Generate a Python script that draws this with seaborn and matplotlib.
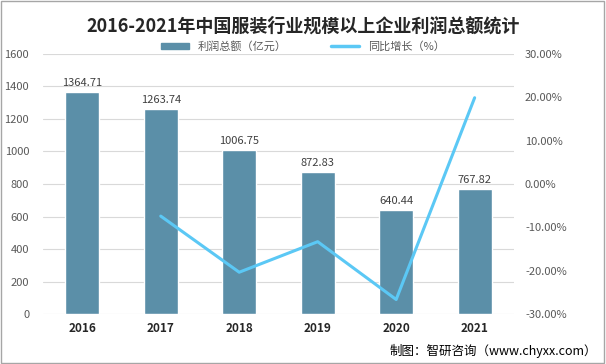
import numpy as np
import pandas as pd
import seaborn as sns
import matplotlib.pyplot as plt
from matplotlib.patches import Patch
from matplotlib.lines import Line2D
from matplotlib.ticker import FuncFormatter

years = ['2016', '2017', '2018', '2019', '2020', '2021']
profit = [1364.71, 1263.74, 1006.75, 872.83, 640.44, 767.82]
growth = [np.nan, -7.40, -20.34, -13.30, -26.63, 19.89]

bar_color = '#5B8FA8'
line_color = '#5BC8F5'

sns.set_theme(style='white')
plt.rcParams['font.family'] = ['Noto Sans CJK SC', 'DejaVu Sans']

df = pd.DataFrame({'year': years, 'profit': profit, 'growth': growth})
df['pos'] = np.arange(len(df))

fig = plt.figure(figsize=(6.06, 3.64), dpi=100)
ax = fig.add_axes([0.071, 0.137, 0.777, 0.715])

sns.barplot(data=df, x='year', y='profit', color=bar_color, width=0.43,
            saturation=1, ax=ax)
ax.set_ylim(0, 1600)
ax.set_yticks(np.arange(0, 1601, 200))
ax.set_xlim(-0.5, 5.5)
ax.grid(axis='y', color='#D9D9D9', linewidth=0.8)
ax.set_axisbelow(True)
ax.set_xlabel('')
ax.set_ylabel('')
for s in ax.spines.values():
    s.set_visible(False)
ax.tick_params(axis='y', labelsize=8, colors='#595959', length=0, pad=10)
ax.tick_params(axis='x', labelsize=8.5, length=0, pad=6)
for lab in ax.get_xticklabels():
    lab.set_fontweight('bold')
    lab.set_color('#262626')

for p, v in zip(ax.patches, profit):
    ax.text(p.get_x() + p.get_width() / 2, v + 25, f'{v:.2f}',
            ha='center', va='bottom', fontsize=8, color='#404040')

ax2 = ax.twinx()
sns.lineplot(data=df, x='pos', y='growth', color=line_color, linewidth=2.2, ax=ax2)
ax2.set_ylim(-30, 30)
ax2.set_yticks(np.arange(-30, 31, 10))
ax2.yaxis.set_major_formatter(FuncFormatter(lambda v, _: f'{v:.2f}%'))
ax2.set_ylabel('')
ax2.set_xlim(-0.5, 5.5)
for s in ax2.spines.values():
    s.set_visible(False)
ax2.tick_params(axis='y', labelsize=8, colors='#595959', length=0, pad=8)

fig.suptitle('2016-2021年中国服装行业规模以上企业利润总额统计', x=0.5, y=0.955,
             fontsize=13, fontweight='bold', color='#262626')

handles = [Patch(color=bar_color), Line2D([0], [0], color=line_color, linewidth=2.5)]
fig.legend(handles, ['利润总额（亿元）', '同比增长（%）'], loc='center',
           bbox_to_anchor=(0.5, 0.872), ncol=2, frameon=False, fontsize=8,
           handlelength=2.5, handleheight=0.5, columnspacing=4,
           labelcolor='#595959')

fig.text(0.985, 0.035, '制图：智研咨询（www.chyxx.com）', ha='right', va='center',
         fontsize=9, color='#000000')

fig.patches.append(plt.Rectangle((0.002, 0.003), 0.995, 0.994, transform=fig.transFigure,
                                 fill=False, edgecolor='#A6A6A6', linewidth=1))

fig.savefig('out.png', dpi=100)
